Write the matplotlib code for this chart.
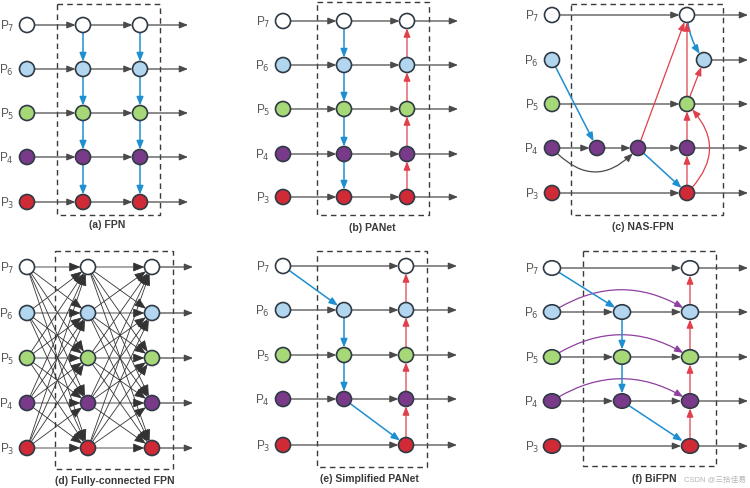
import matplotlib
matplotlib.use("Agg")
import matplotlib.pyplot as plt
from matplotlib.patches import Circle, Ellipse, FancyArrowPatch, Rectangle

# Pyramid levels, top to bottom, and their node colours
levels = ["7", "6", "5", "4", "3"]
node_colors = ["#ffffff", "#b3d6f0", "#a6d877", "#7a3a8a", "#d02a37"]
titles = ["(a) FPN", "(b) PANet", "(c) NAS-FPN",
          "(d) Fully-connected FPN", "(e) Simplified PANet", "(f) BiFPN"]
watermark = "CSDN @三拾佳易"

GRAY = "#4a4a4a"
BLUE = "#1e8fd0"
RED = "#e0404c"
PURPLE = "#8e3f9e"
EDGE = "#2f3a45"

plt.rcParams["font.family"] = ["Liberation Sans", "Noto Sans CJK SC", "DejaVu Sans"]

fig = plt.figure(figsize=(7.5, 4.88), dpi=100)
ax = fig.add_axes([0, 0, 1, 1])
ax.set_xlim(0, 750)
ax.set_ylim(488, 0)
ax.axis("off")

R = 7.5
PT = 72 / 100  # pixels -> points


def node(x, y, lvl, oval=False):
    if oval:
        p = Ellipse((x, y), 17, 14.5, fc=node_colors[lvl], ec=EDGE, lw=1.2, zorder=5)
    else:
        p = Circle((x, y), R, fc=node_colors[lvl], ec=EDGE, lw=1.2, zorder=5)
    ax.add_patch(p)


def arrow(p1, p2, color=GRAY, lw=0.9, rad=0.0, sa=R, sb=R, hl=0.5, hw=0.2):
    a = FancyArrowPatch(p1, p2, arrowstyle=f"-|>,head_length={hl},head_width={hw}",
                        mutation_scale=10, color=color, lw=lw,
                        shrinkA=sa * PT, shrinkB=sb * PT,
                        connectionstyle=f"arc3,rad={rad}", zorder=3)
    ax.add_patch(a)


def frame(x0, y0, x1, y1):
    ax.add_patch(Rectangle((x0, y0), x1 - x0, y1 - y0, fill=False, ec="#3a3a3a",
                           lw=1.0, ls=(0, (4, 3)), zorder=1))


def labels(xin, rows):
    for i, y in enumerate(rows):
        ax.text(xin - 13, y + 1, f"P$_{levels[i]}$", ha="right", va="center",
                fontsize=8.5, color="#555555")


def title(x, y, s):
    ax.text(x, y, s, ha="center", va="center", fontsize=7.5,
            fontweight="bold", color="#3a3a3a")


# ---------------- (a) FPN ----------------
rows = [25, 69, 113, 157, 202]
xin, m1, m2, xend = 27, 83, 140, 188
frame(57, 4, 160, 215)
labels(xin, rows)
for i, y in enumerate(rows):
    arrow((xin, y), (m1, y))
    arrow((m1, y), (m2, y))
    arrow((m2, y), (xend, y), sb=0)
    for x in (xin, m1, m2):
        node(x, y, i)
for i in range(4):
    for x in (m1, m2):
        arrow((x, rows[i]), (x, rows[i + 1]), color=BLUE, lw=1.1)
title(107, 225, titles[0])

# ---------------- (b) PANet ----------------
rows = [21, 65, 109, 154, 197]
xin, m1, m2, xend = 283, 344, 407, 458
frame(317, 2, 429, 215)
labels(xin, rows)
for i, y in enumerate(rows):
    arrow((xin, y), (m1, y))
    arrow((m1, y), (m2, y))
    arrow((m2, y), (xend, y), sb=0)
    for x in (xin, m1, m2):
        node(x, y, i)
for i in range(4):
    arrow((m1, rows[i]), (m1, rows[i + 1]), color=BLUE, lw=1.1)
    arrow((m2, rows[i + 1]), (m2, rows[i]), color=RED, lw=0.9)
title(372, 228, titles[1])

# ---------------- (c) NAS-FPN ----------------
rows = [15, 60, 104, 148, 193]
xin, xend = 552, 748
n1, n2, xo, x6 = 597, 638, 687, 704
frame(571, 4, 723, 215)
labels(xin, rows)
for i, y in enumerate(rows):
    node(xin, y, i)
# horizontal paths
arrow((xin, rows[0]), (xo, rows[0]))
arrow((xo, rows[0]), (xend, rows[0]), sb=0)
arrow((x6, rows[1]), (xend, rows[1]), sb=0)
arrow((xin, rows[2]), (xo, rows[2]))
arrow((xo, rows[2]), (xend, rows[2]), sb=0)
arrow((xin, rows[3]), (n1, rows[3]))
arrow((n1, rows[3]), (n2, rows[3]))
arrow((n2, rows[3]), (xo, rows[3]))
arrow((xo, rows[3]), (xend, rows[3]), sb=0)
arrow((xin, rows[4]), (xo, rows[4]))
arrow((xo, rows[4]), (xend, rows[4]), sb=0)
arrow((xin, rows[3]), (n2, rows[3]), rad=0.55)
# top-down / bottom-up
arrow((xin, rows[1]), (n1, rows[3]), color=BLUE, lw=1.1)
arrow((n2, rows[3]), (xo, rows[4]), color=BLUE, lw=1.1)
arrow((xo, rows[0]), (x6, rows[1]), color=BLUE, lw=1.1, rad=0.15)
arrow((n2, rows[3]), (xo, rows[0]), color=RED, lw=0.9)
arrow((xo, rows[4]), (xo, rows[3]), color=RED, lw=0.9)
arrow((xo, rows[3]), (xo, rows[2]), color=RED, lw=0.9)
arrow((xo, rows[2]), (xo, rows[0]), color=RED, lw=0.9)
arrow((xo, rows[2]), (x6, rows[1]), color=RED, lw=0.9)
arrow((xo, rows[4]), (xo, rows[2]), color=RED, lw=0.9, rad=0.5)
for x, i in [(n1, 3), (n2, 3), (xo, 0), (x6, 1), (xo, 2), (xo, 3), (xo, 4)]:
    node(x, rows[i], i)
title(643, 227, titles[2])

# ---------------- (d) Fully-connected FPN ----------------
rows = [267, 313, 358, 403, 448]
xin, m1, m2, xend = 27, 88, 152, 193
frame(55, 251, 173, 469)
labels(xin, rows)
for a, xa in ((xin, m1), (m1, m2)):
    for i in range(5):
        for j in range(5):
            arrow((a, rows[i]), (xa, rows[j]), color="#333333", lw=0.6,
                  hl=0.7, hw=0.28)
for i, y in enumerate(rows):
    arrow((m2, y), (xend, y), sb=0)
    for x in (xin, m1, m2):
        node(x, y, i)
title(115, 481, titles[3])

# ---------------- (e) Simplified PANet ----------------
rows = [266, 310, 355, 399, 445]
xin, m1, m2, xend = 283, 344, 406, 457
frame(317, 251, 427, 467)
labels(xin, rows)
for i, y in enumerate(rows):
    if i in (0, 4):
        arrow((xin, y), (m2, y))
    else:
        arrow((xin, y), (m1, y))
        arrow((m1, y), (m2, y))
        node(m1, y, i)
    arrow((m2, y), (xend, y), sb=0)
    node(xin, y, i)
    node(m2, y, i)
arrow((xin, rows[0]), (m1, rows[1]), color=BLUE, lw=1.1)
arrow((m1, rows[1]), (m1, rows[2]), color=BLUE, lw=1.1)
arrow((m1, rows[2]), (m1, rows[3]), color=BLUE, lw=1.1)
arrow((m1, rows[3]), (m2, rows[4]), color=BLUE, lw=1.1)
for i in range(4):
    arrow((m2, rows[i + 1]), (m2, rows[i]), color=RED, lw=0.9)
title(369, 479, titles[4])

# ---------------- (f) BiFPN ----------------
rows = [268, 312, 357, 401, 446]
xin, m1, m2, xend = 552, 622, 690, 748
frame(583, 251, 716, 466)
labels(xin, rows)
for i, y in enumerate(rows):
    if i in (0, 4):
        arrow((xin, y), (m2, y), sa=9, sb=9)
    else:
        arrow((xin, y), (m1, y), sa=9, sb=9)
        arrow((m1, y), (m2, y), sa=9, sb=9)
        arrow((xin, y), (m2, y), color=PURPLE, lw=0.9, rad=-0.32, sa=7, sb=8)
        node(m1, y, i, oval=True)
    arrow((m2, y), (xend, y), sa=9, sb=0)
    node(xin, y, i, oval=True)
    node(m2, y, i, oval=True)
arrow((xin, rows[0]), (m1, rows[1]), color=BLUE, lw=1.1, sa=9, sb=8)
arrow((m1, rows[1]), (m1, rows[2]), color=BLUE, lw=1.1)
arrow((m1, rows[2]), (m1, rows[3]), color=BLUE, lw=1.1)
arrow((m1, rows[3]), (m2, rows[4]), color=BLUE, lw=1.1, sa=9, sb=9)
for i in range(4):
    arrow((m2, rows[i + 1]), (m2, rows[i]), color=RED, lw=0.9)
title(654, 479, titles[5])
ax.text(684, 480, watermark, ha="left", va="center", fontsize=5.5, color="#b5b5b5")

fig.savefig("out.png", dpi=100)
